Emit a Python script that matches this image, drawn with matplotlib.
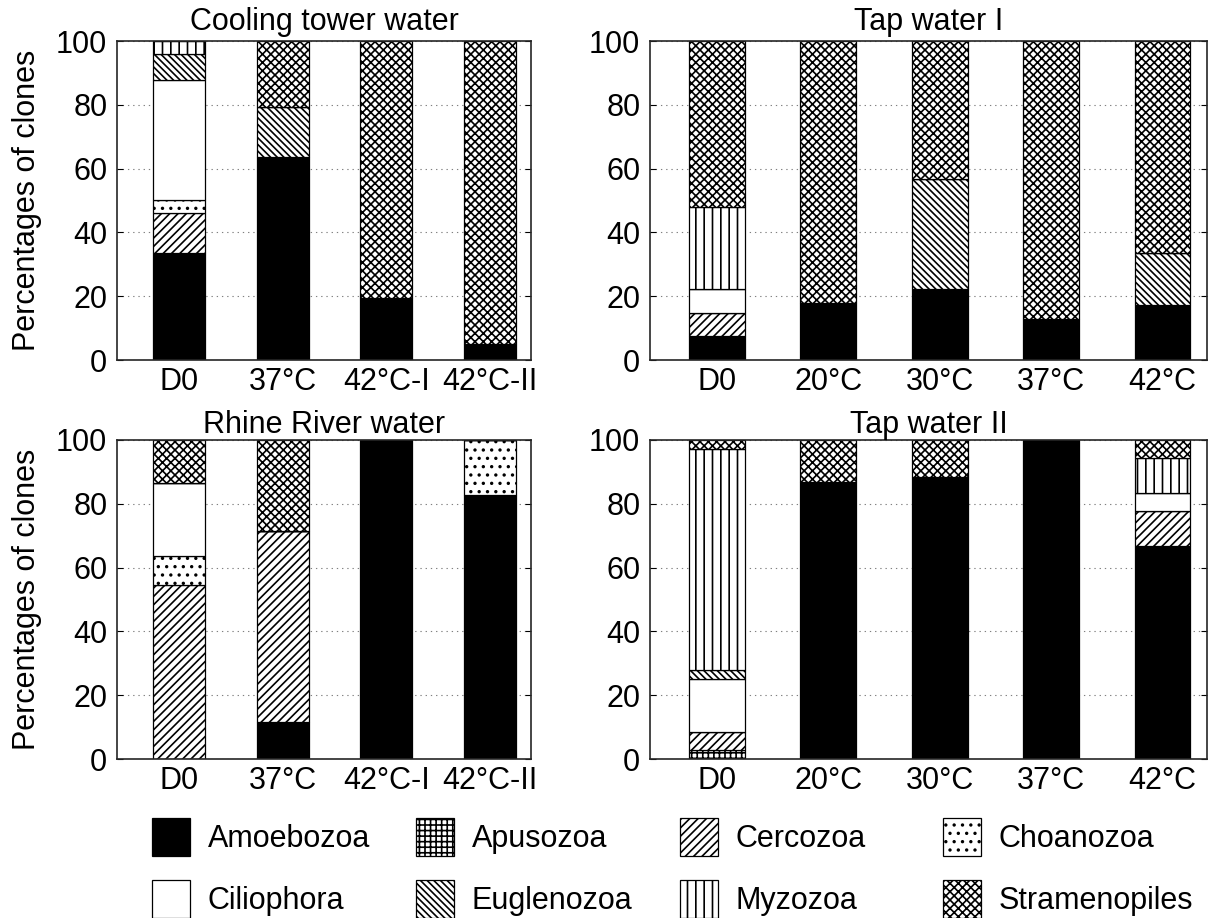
import matplotlib
matplotlib.use('Agg')
import matplotlib.pyplot as plt
from matplotlib.patches import Patch
import numpy as np

plt.rcParams['font.family'] = ['Liberation Sans', 'DejaVu Sans']
plt.rcParams['hatch.linewidth'] = 1.2

groups = ['Amoebozoa', 'Apusozoa', 'Cercozoa', 'Choanozoa',
          'Ciliophora', 'Euglenozoa', 'Myzozoa', 'Stramenopiles']

# percentages, one row per group (stack order), one column per bar
cooling_labels = ['D0', '37°C', '42°C-I', '42°C-II']
cooling = [
    [33.5, 63.5, 19.3, 4.9],
    [0, 0, 0, 0],
    [12.5, 0, 0, 0],
    [4.2, 0, 0, 0],
    [37.5, 0, 0, 0],
    [8.1, 15.7, 0, 0],
    [4.2, 0, 0, 0],
    [0, 20.8, 80.7, 95.1],
]

tap1_labels = ['D0', '20°C', '30°C', '37°C', '42°C']
tap1 = [
    [7.4, 17.8, 22.2, 12.9, 17.1],
    [0, 0, 0, 0, 0],
    [7.4, 0, 0, 0, 0],
    [0, 0, 0, 0, 0],
    [7.4, 0, 0, 0, 0],
    [0, 0, 34.7, 0, 16.5],
    [25.9, 0, 0, 0, 0],
    [51.9, 82.2, 43.1, 87.1, 66.4],
]

rhine_labels = ['D0', '37°C', '42°C-I', '42°C-II']
rhine = [
    [0, 11.6, 100, 82.7],
    [0, 0, 0, 0],
    [54.6, 60.0, 0, 0],
    [9.1, 0, 0, 17.3],
    [22.7, 0, 0, 0],
    [0, 0, 0, 0],
    [0, 0, 0, 0],
    [13.6, 28.4, 0, 0],
]

tap2_labels = ['D0', '20°C', '30°C', '37°C', '42°C']
tap2 = [
    [0, 86.8, 88.3, 100, 66.7],
    [2.8, 0, 0, 0, 0],
    [5.6, 0, 0, 0, 11.1],
    [0, 0, 0, 0, 0],
    [16.7, 0, 0, 0, 5.6],
    [2.8, 0, 0, 0, 0],
    [69.4, 0, 0, 0, 11.1],
    [2.7, 13.2, 11.7, 0, 5.5],
]

colors = ['black'] + ['white'] * 7
hatches = [None, '+++', '////', '..', None, '\\' * 5, '||', 'xxxx']
FS = 22


def draw_panel(ax, labels, values, title, title_pad):
    x = np.arange(1, len(labels) + 1)
    bottom = np.zeros(len(labels))
    for vals, fc, h in zip(values, colors, hatches):
        vals = np.array(vals, dtype=float)
        ax.bar(x, vals, 0.5, bottom=bottom, color=fc, hatch=h,
               edgecolor='black', linewidth=0.9, zorder=2)
        bottom += vals
    ax.set_xlim(0.4, len(labels) + 0.4)
    ax.set_ylim(0, 100)
    ax.set_yticks(range(0, 101, 20))
    ax.set_xticks(x)
    ax.set_xticklabels(labels)
    ax.yaxis.grid(True, linestyle=(0, (1.2, 3.5)), color='#808080', linewidth=0.8)
    ax.set_axisbelow(True)
    ax.tick_params(axis='y', direction='in', length=4, right=True, labelsize=FS, pad=7)
    ax.tick_params(axis='x', length=0, labelsize=FS, pad=5)
    ax.set_title(title, fontsize=FS, pad=title_pad)
    for s in ax.spines.values():
        s.set_linewidth(1.2)
        s.set_color('#262626')


fig = plt.figure(figsize=(12.08, 9.18), dpi=100)
ax1 = fig.add_axes([0.0969, 0.6078, 0.3427, 0.3475])
ax2 = fig.add_axes([0.5381, 0.6078, 0.4611, 0.3475])
ax3 = fig.add_axes([0.0969, 0.1732, 0.3427, 0.3475])
ax4 = fig.add_axes([0.5381, 0.1732, 0.4611, 0.3475])

draw_panel(ax1, cooling_labels, cooling, 'Cooling tower water', 8)
draw_panel(ax2, tap1_labels, tap1, 'Tap water I', 8)
draw_panel(ax3, rhine_labels, rhine, 'Rhine River water', 2.5)
draw_panel(ax4, tap2_labels, tap2, 'Tap water II', 1.5)

for ax in (ax1, ax3):
    ax.set_ylabel('Percentages of clones', fontsize=FS, labelpad=10)

handles = [Patch(facecolor=c, edgecolor='black', hatch=h, linewidth=0.9)
           for c, h in zip(colors, hatches)]
col_x = [0.1258, 0.3444, 0.5629, 0.7806]
for j in range(4):
    fig.legend([handles[j], handles[j + 4]], [groups[j], groups[j + 4]],
               loc='upper left', bbox_to_anchor=(col_x[j], 0.1093),
               frameon=False, fontsize=FS, handlelength=1.24, handleheight=1.54,
               handletextpad=0.59, labelspacing=0.8, borderpad=0, borderaxespad=0)

fig.savefig('out.png', dpi=100)
